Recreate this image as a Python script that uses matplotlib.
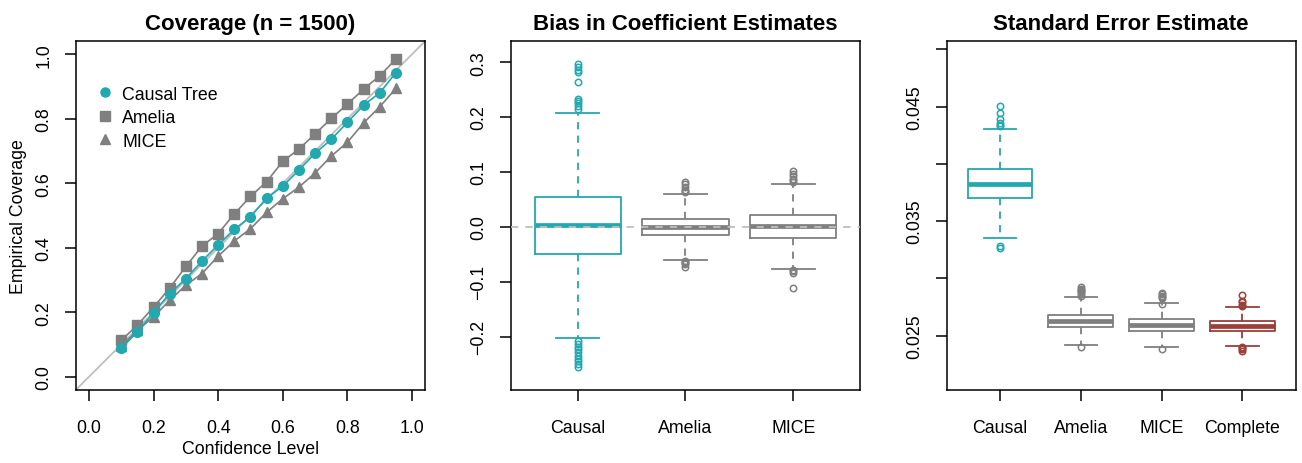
import matplotlib
matplotlib.use("Agg")
import matplotlib.pyplot as plt
from matplotlib.lines import Line2D
import numpy as np

plt.rcParams['font.family'] = ['Liberation Sans', 'DejaVu Sans']

TEAL = "#22A8AF"
GRAY = "#7F7F7F"
RED = "#9B3F38"
LIGHT = "#BEBEBE"

# ---------------- Panel 1 data ----------------
conf_level = [0.10, 0.15, 0.20, 0.25, 0.30, 0.35, 0.40, 0.45, 0.50,
              0.55, 0.60, 0.65, 0.70, 0.75, 0.80, 0.85, 0.90, 0.95]
cov_causal = [0.088, 0.139, 0.199, 0.258, 0.304, 0.359, 0.409, 0.457, 0.496,
              0.554, 0.591, 0.641, 0.693, 0.736, 0.789, 0.842, 0.880, 0.943]
cov_amelia = [0.113, 0.160, 0.216, 0.275, 0.342, 0.405, 0.444, 0.505, 0.559,
              0.605, 0.668, 0.706, 0.753, 0.801, 0.845, 0.892, 0.933, 0.985]
cov_mice = [0.095, 0.144, 0.186, 0.237, 0.284, 0.320, 0.374, 0.421, 0.459,
            0.510, 0.552, 0.588, 0.632, 0.684, 0.727, 0.787, 0.837, 0.894]
p1_ticks = [0.0, 0.2, 0.4, 0.6, 0.8, 1.0]

# ---------------- Panel 2 data (bias) ----------------
bias_labels = ["Causal", "Amelia", "MICE"]
bias_q1 = [-0.0488, -0.0147, -0.0197]
bias_med = [0.0035, -0.0005, 0.0023]
bias_q3 = [0.0545, 0.0150, 0.0212]
bias_whislo = [-0.2025, -0.0598, -0.0773]
bias_whishi = [0.2080, 0.0600, 0.0788]
bias_fliers = [
    [0.296, 0.291, 0.286, 0.282, 0.2636, 0.233, 0.229, 0.225, 0.221, 0.215,
     -0.208, -0.213, -0.218, -0.223, -0.228, -0.235, -0.240, -0.245, -0.250, -0.255],
    [0.081, 0.078, 0.072, 0.068, 0.065, 0.063,
     -0.0615, -0.064, -0.066, -0.068, -0.0735],
    [0.101, 0.097, 0.092, 0.088, 0.085, 0.082,
     -0.079, -0.081, -0.084, -0.1108],
]
bias_ticks = [-0.2, -0.1, 0.0, 0.1, 0.2, 0.3]

# ---------------- Panel 3 data (SE) ----------------
se_labels = ["Causal", "Amelia", "MICE", "Complete"]
se_q1 = [0.03702, 0.02573, 0.02541, 0.02538]
se_med = [0.03825, 0.02625, 0.02593, 0.02584]
se_q3 = [0.03953, 0.02683, 0.02646, 0.02631]
se_whislo = [0.03353, 0.02416, 0.02404, 0.02413]
se_whishi = [0.04308, 0.02841, 0.02782, 0.02753]
se_fliers = [
    [0.04509, 0.04445, 0.04392, 0.04357, 0.04340, 0.04328, 0.03286, 0.03263],
    [0.02922, 0.02910, 0.02900, 0.02890, 0.02880, 0.02862, 0.02850, 0.02398],
    [0.02870, 0.02860, 0.02850, 0.02840, 0.02830, 0.02775, 0.02384],
    [0.02855, 0.02806, 0.02790, 0.02770, 0.02760, 0.02398, 0.02390, 0.02386, 0.02370],
]
se_ticks = [0.025, 0.030, 0.035, 0.040, 0.045, 0.050]
se_ticklabels = ["0.025", "", "0.035", "", "0.045", ""]

FS = 12.8
TFS = 16

fig = plt.figure(figsize=(13.02, 4.64), dpi=100)
W, H = 1302.0, 464.0


def add_axes(x0, x1, y0, y1):
    return fig.add_axes([x0 / W, 1 - y1 / H, (x1 - x0) / W, (y1 - y0) / H])


def style(ax):
    for s in ax.spines.values():
        s.set_linewidth(1.1)
    ax.tick_params(axis='both', direction='out', length=8, width=1.1,
                   labelsize=FS, top=False, right=False)
    ax.tick_params(axis='x', pad=13)
    ax.tick_params(axis='y', pad=9)
    for lab in ax.get_yticklabels():
        lab.set_rotation(90)
        lab.set_va('center')


# ---- Panel 1 ----
ax1 = add_axes(76, 425, 42.3, 390.7)
ax1.set_xlim(-0.04, 1.04)
ax1.set_ylim(-0.04, 1.04)
ax1.axline((0, 0), slope=1, color=LIGHT, lw=1.3, zorder=1)
ax1.plot(conf_level, cov_amelia, color=GRAY, lw=1.2, marker='s', ms=6.5,
         mec=GRAY, mfc=GRAY, zorder=3, label="Amelia")
ax1.plot(conf_level, cov_mice, color=GRAY, lw=1.2, marker='^', ms=7,
         mec=GRAY, mfc=GRAY, zorder=3, label="MICE")
ax1.plot(conf_level, cov_causal, color=TEAL, lw=1.2, marker='o', ms=7,
         mec=TEAL, mfc=TEAL, zorder=4, label="Causal Tree")
ax1.set_xticks(p1_ticks)
ax1.set_yticks(p1_ticks)
ax1.set_xticklabels([f"{t:.1f}" for t in p1_ticks])
ax1.set_yticklabels([f"{t:.1f}" for t in p1_ticks])
ax1.set_xlabel("Confidence Level", fontsize=FS, labelpad=3)
ax1.set_ylabel("Empirical Coverage", fontsize=FS, labelpad=6)
ax1.set_title("Coverage (n = 1500)", fontsize=TFS, fontweight='bold', pad=9)
style(ax1)
handles = [Line2D([], [], ls='none', marker='o', ms=6.5, color=TEAL),
           Line2D([], [], ls='none', marker='s', ms=6.5, color=GRAY),
           Line2D([], [], ls='none', marker='^', ms=7, color=GRAY)]
ax1.legend(handles, ["Causal Tree", "Amelia", "MICE"], loc='upper left',
           bbox_to_anchor=(0.058, 0.873), frameon=False, fontsize=FS,
           handlelength=1.0, handletextpad=0.45, labelspacing=0.37,
           borderaxespad=0, borderpad=0)


def boxes(ax, q1, med, q3, lo, hi, fl, labels, colors):
    for i in range(len(labels)):
        st = dict(q1=q1[i], med=med[i], q3=q3[i], whislo=lo[i],
                  whishi=hi[i], fliers=fl[i], label=labels[i])
        c = colors[i]
        ax.bxp([st], positions=[i + 1], widths=0.8, capwidths=0.4,
               showfliers=True, manage_ticks=False,
               boxprops=dict(color=c, lw=1.3),
               medianprops=dict(color=c, lw=3.4, solid_capstyle='butt'),
               whiskerprops=dict(color=c, lw=1.3, ls=(0, (4, 3.5))),
               capprops=dict(color=c, lw=1.3),
               flierprops=dict(marker='o', ms=4.6, mfc='none', mec=c, mew=1.1))
    ax.set_xticks(range(1, len(labels) + 1))
    ax.set_xticklabels(labels)


# ---- Panel 2 ----
ax2 = add_axes(511, 860, 42.3, 390.7)
boxes(ax2, bias_q1, bias_med, bias_q3, bias_whislo, bias_whishi, bias_fliers,
      bias_labels, [TEAL, GRAY, GRAY])
ax2.axhline(0, color=LIGHT, lw=1.3, ls=(0, (4, 4)), zorder=5)
ax2.set_xlim(0.38, 3.62)
ax2.set_ylim(-0.2966, 0.338)
ax2.set_yticks(bias_ticks)
ax2.set_yticklabels(["\u22120.2", "\u22120.1", "0.0", "0.1", "0.2", "0.3"])
ax2.set_title("Bias in Coefficient Estimates", fontsize=TFS, fontweight='bold', pad=9)
style(ax2)

# ---- Panel 3 ----
ax3 = add_axes(946.7, 1295.7, 42.3, 390.7)
boxes(ax3, se_q1, se_med, se_q3, se_whislo, se_whishi, se_fliers,
      se_labels, [TEAL, GRAY, GRAY, RED])
ax3.set_xlim(0.34, 4.66)
ax3.set_ylim(0.02028, 0.0507)
ax3.set_yticks(se_ticks)
ax3.set_yticklabels(se_ticklabels)
ax3.set_title("Standard Error Estimate", fontsize=TFS, fontweight='bold', pad=9)
style(ax3)

fig.savefig("out.png", dpi=100)
